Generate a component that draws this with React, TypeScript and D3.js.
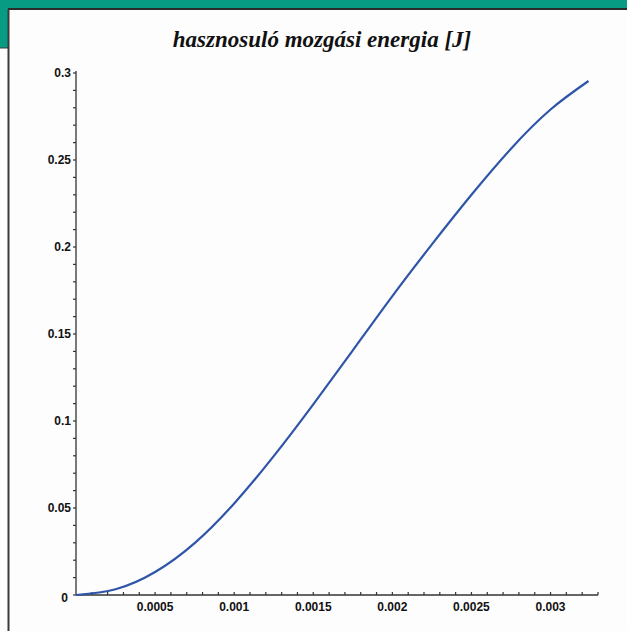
import * as d3 from 'd3'

// time [s] and useful kinetic energy [J]
const timeValues = [0, 0.00025, 0.0005, 0.00075, 0.001, 0.00125, 0.0015, 0.00175, 0.002, 0.00225, 0.0025, 0.00275, 0.003, 0.00324]
const energyValues = [0, 0.0033, 0.0132, 0.0298, 0.0526, 0.0798, 0.1096, 0.1406, 0.1718, 0.2015, 0.23, 0.2565, 0.279, 0.2954]

const yTicks = [0, 0.05, 0.1, 0.15, 0.2, 0.25, 0.3]
const yTickLabels = ['0', '0.05', '0.1', '0.15', '0.2', '0.25', '0.3']
const xTicks = [0.0005, 0.001, 0.0015, 0.002, 0.0025, 0.003]
const xTickLabels = ['0.0005', '0.001', '0.0015', '0.002', '0.0025', '0.003']

const title = 'hasznosuló mozgási energia [J]'

export default function App() {
  const width = 627
  const height = 631
  const teal = '#079b84'

  const x = d3.scaleLinear().domain([0, 0.0033]).range([76, 598])
  const y = d3.scaleLinear().domain([0, 0.3]).range([595, 73])

  const points = timeValues.map((t, i) => [t, energyValues[i]] as [number, number])
  const line = d3.line<[number, number]>()
    .x(d => x(d[0]))
    .y(d => y(d[1]))
    .curve(d3.curveNatural)

  // minor ticks every 0.01 on y, every 0.0001 on x
  const yMinor = d3.range(0, 31).map(i => i * 0.01)
  const xMinor = d3.range(1, 34).map(i => i * 0.0001)

  const labelStyle = { fontFamily: 'Arial, "Liberation Sans", sans-serif', fontWeight: 700, fontSize: '12px' }

  return (
    <svg width={width} height={height} style={{ position: 'absolute', left: 0, top: 0, background: '#fdfdfd' }}>
      {/* frame */}
      <rect x={0} y={0} width={width} height={9} fill={teal} />
      <rect x={0} y={0} width={8} height={48} fill={teal} />
      <line x1={0} x2={8} y1={48} y2={48} stroke="#3a3a3a" strokeWidth={1} />
      <line x1={8} x2={width} y1={9} y2={9} stroke="#2b2b2b" strokeWidth={2} />
      <line x1={8.5} x2={8.5} y1={9} y2={height} stroke="#3a3a3a" strokeWidth={2} />

      <text x={322} y={47} textAnchor="middle"
        style={{ fontFamily: '"Liberation Serif", "DejaVu Serif", serif', fontStyle: 'italic', fontWeight: 700, fontSize: '23px' }}
        fill="#111">{title}</text>

      {/* y axis */}
      <line x1={x(0)} x2={x(0)} y1={y(0.3) - 2} y2={y(0)} stroke="#333" strokeWidth={1.3} />
      {yMinor.map((v, i) => (
        <line key={'ym' + i} x1={x(0) - 3} x2={x(0)} y1={y(v)} y2={y(v)} stroke="#333" strokeWidth={1.2} />
      ))}
      {yTicks.map((v, i) => (
        <text key={'yl' + i} x={v === 0 ? 68 : 71} y={y(v) + (v === 0 ? 7 : 4)} textAnchor="end" style={labelStyle} fill="#111">
          {yTickLabels[i]}
        </text>
      ))}

      {/* x axis */}
      <line x1={x(0)} x2={x(0.0033)} y1={y(0)} y2={y(0)} stroke="#333" strokeWidth={1.3} />
      {xMinor.map((v, i) => (
        <line key={'xm' + i} x1={x(v)} x2={x(v)} y1={y(0) - 3} y2={y(0)} stroke="#333" strokeWidth={1.2} />
      ))}
      {xTicks.map((v, i) => (
        <text key={'xl' + i} x={x(v)} y={611} textAnchor="middle" style={labelStyle} fill="#111">
          {xTickLabels[i]}
        </text>
      ))}

      <path d={line(points) || ''} fill="none" stroke="#2e55a8" strokeWidth={2.2} />
    </svg>
  )
}
